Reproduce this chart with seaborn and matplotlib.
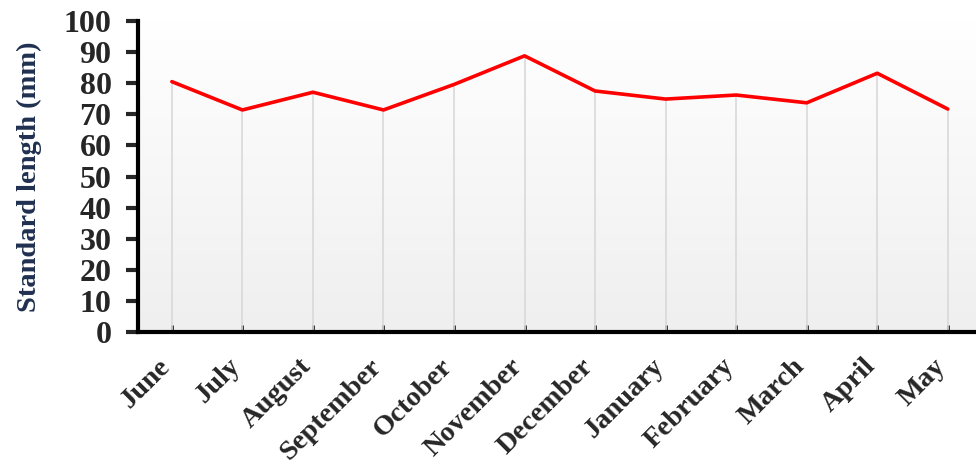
import numpy as np
import pandas as pd
import seaborn as sns
import matplotlib.pyplot as plt
from matplotlib.transforms import ScaledTranslation

# monthly values
months = ["June", "July", "August", "September", "October", "November",
          "December", "January", "February", "March", "April", "May"]
length_mm = [80.5, 71.4, 77.1, 71.4, 79.6, 88.8,
             77.5, 74.9, 76.2, 73.7, 83.2, 71.7]
y_ticks = [0, 10, 20, 30, 40, 50, 60, 70, 80, 90, 100]

df = pd.DataFrame({"month": months, "length": length_mm})
df["pos"] = range(len(months))

sns.set_style("white")
plt.rcParams['font.family'] = ['Liberation Serif', 'DejaVu Serif']
plt.rcParams['font.weight'] = 'bold'

fig = plt.figure(figsize=(9.76, 4.73), dpi=100)
ax = fig.add_axes([0.1414, 0.298, 0.8586, 0.6576])

# gradient background, white at top to light grey at the bottom
grad = np.linspace(1, 0, 256).reshape(-1, 1)
ax.imshow(grad, extent=[0, 1, 0, 1], transform=ax.transAxes, aspect='auto',
          cmap=plt.matplotlib.colors.LinearSegmentedColormap.from_list(
              "bg", ["#efefef", "#ffffff"]), zorder=0)

# drop lines from axis to each point
ax.vlines(df["pos"], 0, df["length"], color="#d9d9d9", lw=1.2, zorder=1)

sns.lineplot(data=df, x="pos", y="length", color="#ff0000", lw=2.6, ax=ax, zorder=3)

ax.set_xlim(-0.48, 11.4)
ax.set_ylim(0, 100)
ax.set_yticks(y_ticks)
ax.set_yticklabels([str(v) for v in y_ticks], fontsize=23, fontweight='bold')
ax.set_xticks(df["pos"])
ax.set_xticklabels(months, rotation=45, ha='right', va='center',
                   rotation_mode='anchor', fontsize=20.5, fontweight='bold')
ax.set_xlabel("")
ax.set_ylabel("Standard length (mm)", fontsize=20.5, fontweight='bold',
              color="#1f3050", labelpad=16)

for s in ["top", "right"]:
    ax.spines[s].set_visible(False)
for s in ["left", "bottom"]:
    ax.spines[s].set_linewidth(3)
    ax.spines[s].set_color("black")

ax.tick_params(axis='y', direction='out', length=9, width=3, pad=10, left=True)
ax.tick_params(axis='x', direction='in', length=5, width=2, pad=22, bottom=True)
shift = ScaledTranslation(-4 / 72, 0, fig.dpi_scale_trans)
for lbl in ax.get_xticklabels():
    lbl.set_transform(lbl.get_transform() + shift)

fig.savefig("out.png", dpi=100)
